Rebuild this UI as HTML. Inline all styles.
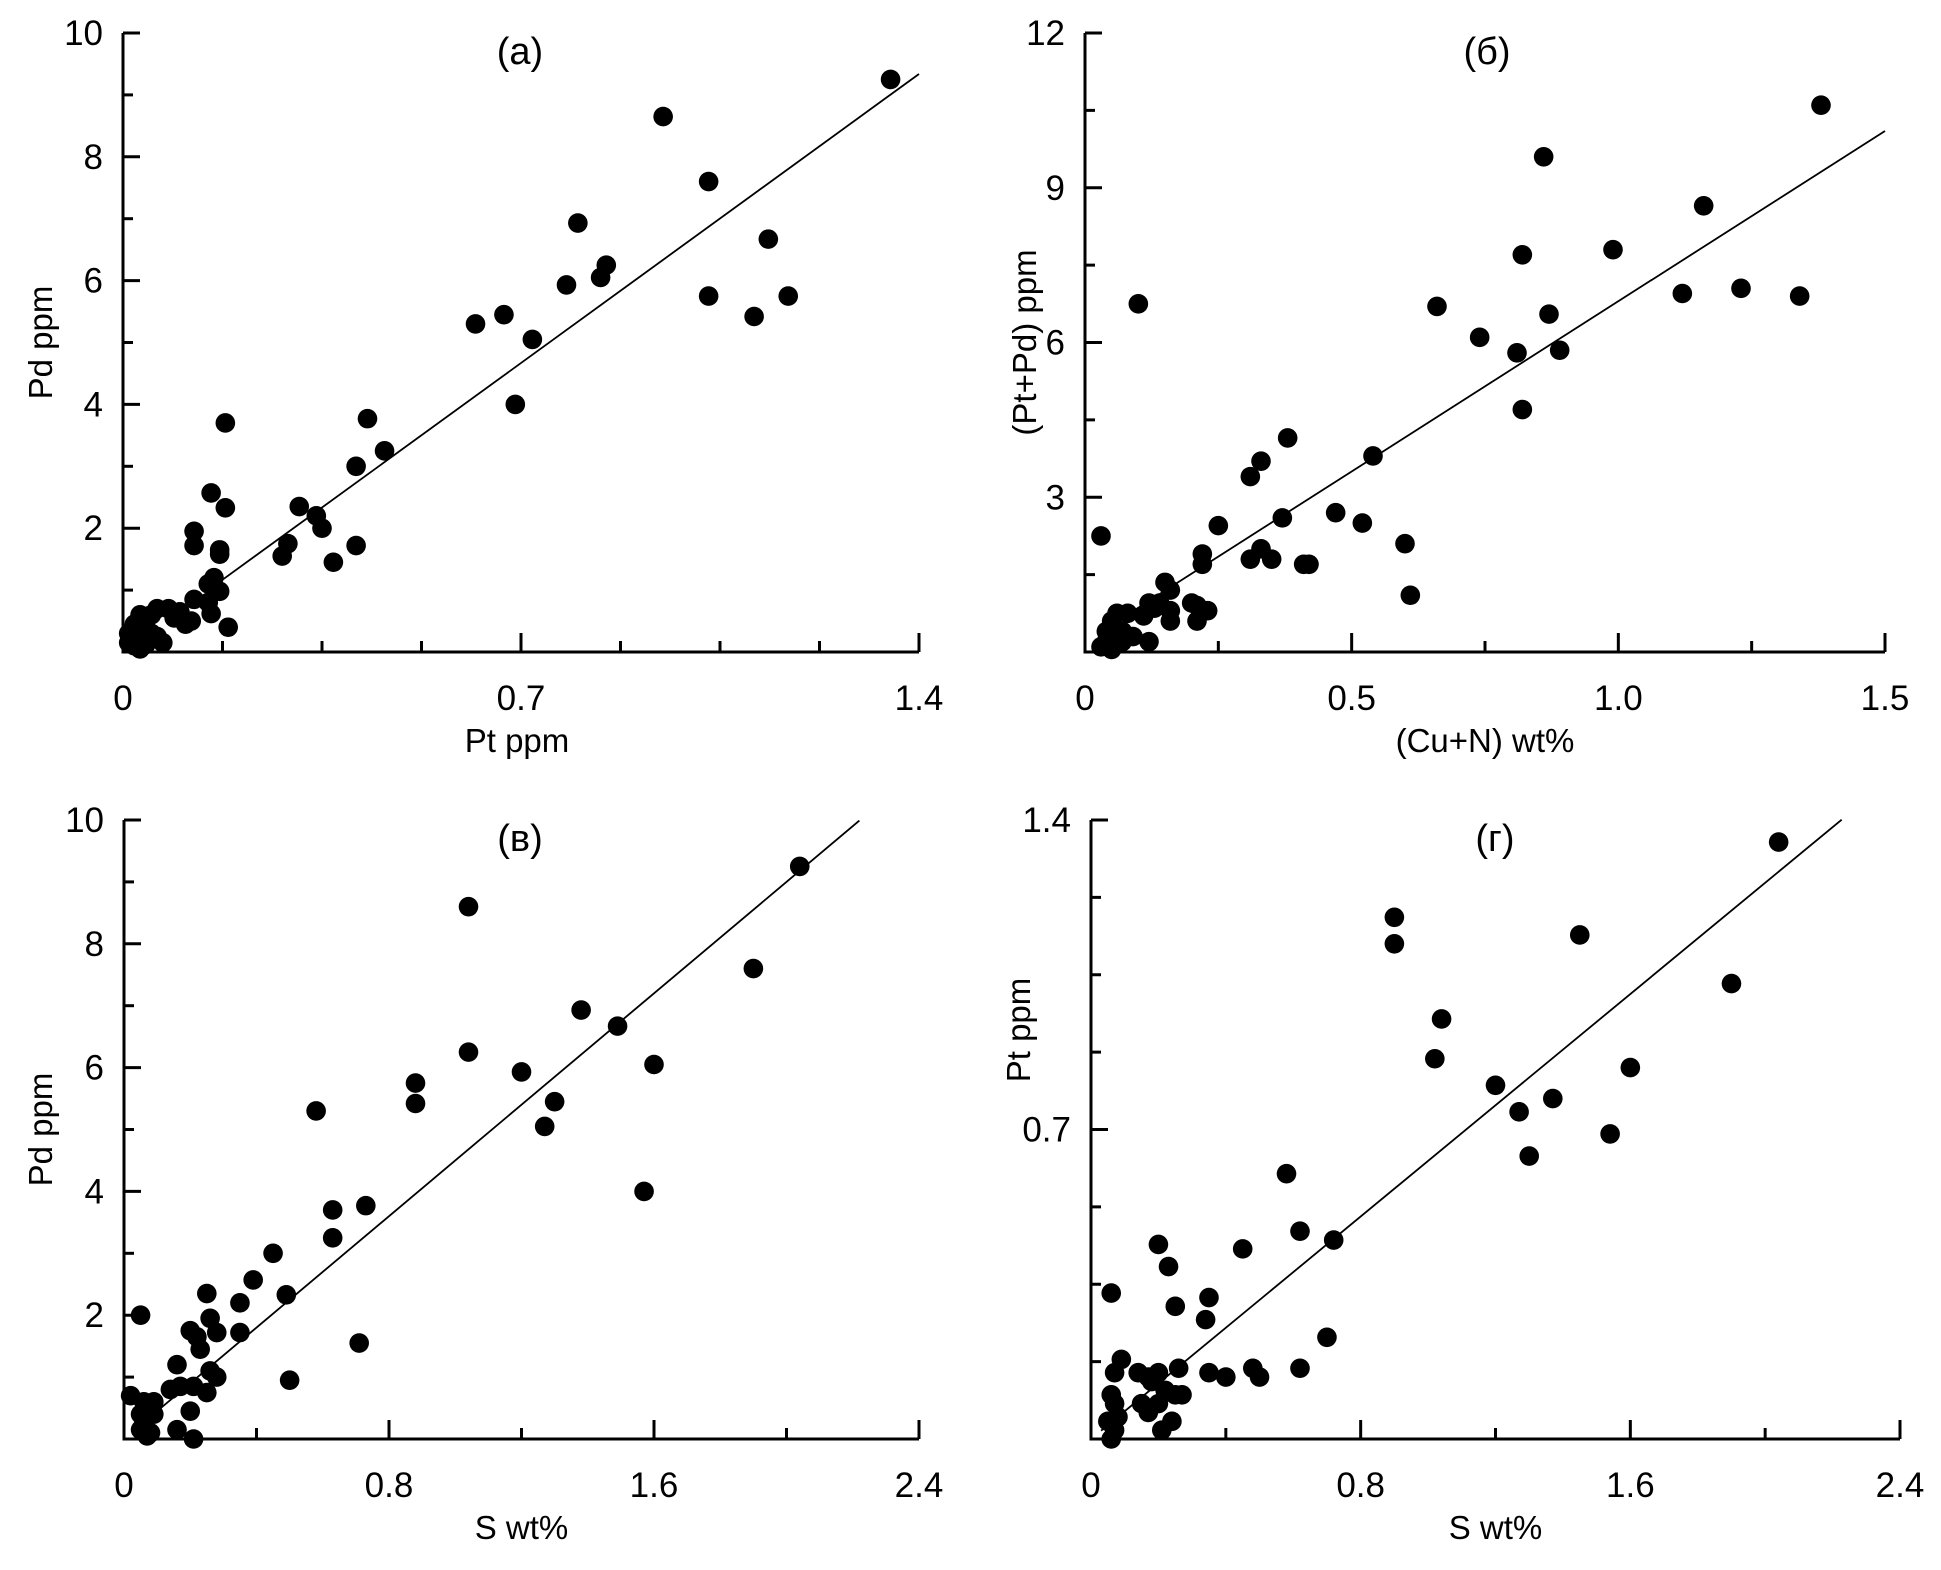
<!DOCTYPE html>
<html><head><meta charset="utf-8"><style>
html,body{margin:0;padding:0;background:#fff}
svg{display:block}
text{font-family:"Liberation Sans",Arial,sans-serif;fill:#000}
</style></head><body>
<svg id="chart" width="1941" height="1570" viewBox="0 0 1941 1570"></svg>
<script>
// ---- data ----
const aPt=[1.35,0.95,1.03,0.8,0.85,0.84,0.78,1.135,1.03,1.17,1.11,0.62,0.67,0.72,0.69,0.43,0.46,0.41,0.41,0.37,0.28,0.29,0.31,0.34,0.35,0.18,0.155,0.18,0.125,0.125,0.17,0.17,0.15,0.16,0.17,0.15,0.125,0.155,0.185,0.11,0.09,0.08,0.06,0.05,0.03,0.02,0.04,0.03,0.05,0.06,0.01,0.01,0.02,0.04,0.03,0.07,0.1,0.12,0.02];
const aPd=[9.25,8.65,7.6,6.93,6.25,6.05,5.93,6.67,5.75,5.75,5.42,5.3,5.45,5.05,4.0,3.77,3.25,3.0,1.72,1.45,1.55,1.75,2.35,2.2,2.0,3.7,2.57,2.33,1.95,1.72,1.65,1.58,1.1,1.2,0.98,0.8,0.85,0.62,0.4,0.45,0.55,0.7,0.7,0.6,0.6,0.45,0.4,0.3,0.3,0.25,0.3,0.15,0.1,0.12,0.05,0.15,0.65,0.5,0.2];
const aFit=[0.17,1.4]; const aFitSlope=6.67; const aFitInt=0.0;

const bCuN=[1.38,0.86,1.16,0.82,0.99,0.1,1.12,1.23,1.34,0.66,0.74,0.87,0.81,0.89,0.82,0.38,0.33,0.31,0.54,0.37,0.47,0.52,0.25,0.6,0.61,0.33,0.31,0.35,0.41,0.42,0.22,0.22,0.03,0.15,0.16,0.2,0.23,0.21,0.21,0.16,0.16,0.12,0.11,0.13,0.14,0.12,0.08,0.06,0.05,0.07,0.05,0.04,0.06,0.03,0.05,0.07,0.04,0.09];
const bPtPd=[10.6,9.6,8.65,7.7,7.8,6.75,6.95,7.05,6.9,6.7,6.1,6.55,5.8,5.85,4.7,4.15,3.7,3.4,3.8,2.6,2.7,2.5,2.45,2.1,1.1,2.0,1.8,1.8,1.7,1.7,1.9,1.7,2.25,1.35,1.2,0.95,0.8,0.9,0.6,0.8,0.6,0.95,0.7,0.85,0.95,0.2,0.75,0.75,0.6,0.4,0.3,0.2,0.15,0.1,0.05,0.2,0.4,0.3];
const bFit=[0.03,1.5]; const bFitSlope=6.6; const bFitInt=0.2;

const cS=[2.04,1.04,1.9,1.38,1.49,1.04,1.6,1.2,0.88,0.88,1.3,1.27,0.58,1.57,0.73,0.63,0.63,0.45,0.39,0.49,0.25,0.35,0.26,0.35,0.28,0.2,0.22,0.23,0.71,0.16,0.26,0.28,0.5,0.14,0.25,0.17,0.21,0.2,0.05,0.02,0.06,0.09,0.09,0.05,0.06,0.08,0.07,0.16,0.21,0.05];
const cPd=[9.25,8.6,7.6,6.93,6.67,6.25,6.05,5.93,5.75,5.42,5.45,5.05,5.3,4.0,3.77,3.7,3.25,3.0,2.57,2.33,2.35,2.2,1.95,1.72,1.72,1.75,1.65,1.45,1.55,1.2,1.1,1.0,0.95,0.8,0.75,0.85,0.85,0.45,2.0,0.7,0.6,0.6,0.4,0.4,0.25,0.1,0.05,0.15,0.0,0.15];
const cFit=[0.04,2.22]; const cFitSlope=4.5; const cFitInt=0.0;

const dS=[2.04,0.9,0.9,1.45,1.9,1.04,1.02,1.6,1.2,1.37,1.27,1.3,1.54,0.58,0.62,0.72,0.45,0.2,0.23,0.06,0.35,0.25,0.34,0.7,0.07,0.09,0.14,0.17,0.2,0.26,0.35,0.4,0.48,0.5,0.62,0.18,0.22,0.25,0.27,0.15,0.2,0.17,0.24,0.21,0.05,0.08,0.07,0.06,0.06,0.07];
const dPt=[1.35,1.18,1.12,1.14,1.03,0.95,0.86,0.84,0.8,0.77,0.74,0.64,0.69,0.6,0.47,0.45,0.43,0.44,0.39,0.33,0.32,0.3,0.27,0.23,0.15,0.18,0.15,0.14,0.15,0.16,0.15,0.14,0.16,0.14,0.16,0.13,0.11,0.1,0.1,0.08,0.08,0.06,0.04,0.02,0.04,0.05,0.08,0.1,0.0,0.02];
const dFit=[0.03,2.227]; const dFitSlope=0.629; const dFitInt=0.0;

const aXTicks=['0','0.7','1.4']; const aYTicks=['2','4','6','8','10'];
const bXTicks=['0','0.5','1.0','1.5']; const bYTicks=['3','6','9','12'];
const cXTicks=['0','0.8','1.6','2.4']; const cYTicks=['2','4','6','8','10'];
const dXTicks=['0','0.8','1.6','2.4']; const dYTicks=['0.7','1.4'];

const NS='http://www.w3.org/2000/svg';
const svg=document.getElementById('chart');
function mk(tag,attrs,parent){const e=document.createElementNS(NS,tag);for(const k in attrs)e.setAttribute(k,attrs[k]);(parent||svg).appendChild(e);return e;}

function panel(o){
  const g=mk('g',{});
  
  
  const sx=v=>o.x0+(v-o.xmin)/(o.xmax-o.xmin)*(o.x1-o.x0);
  const sy=v=>o.y0-(v-o.ymin)/(o.ymax-o.ymin)*(o.y0-o.y1);
  const ax=mk('path',{d:`M${o.x0},${o.y1}V${o.y0}H${o.x1}`,stroke:'#000','stroke-width':3,fill:'none'},g);
  
  
  for(let v=o.ymin;v<=o.ymax+1e-9;v+=o.yMinor){
    const major=Math.abs(v/o.yMajor-Math.round(v/o.yMajor))<1e-6;
    if(v===o.ymin)continue;
    const t=mk('line',{x1:o.x0,x2:o.x0+(major?17:10),y1:sy(v),y2:sy(v),stroke:'#000','stroke-width':3},g);
    
    
  }
  for(let v=o.xmin+o.xMinor;v<=o.xmax+1e-9;v+=o.xMinor){
    const major=Math.abs(v/o.xMajor-Math.round(v/o.xMajor))<1e-6;
    const t=mk('line',{x1:sx(v),x2:sx(v),y1:o.y0,y2:o.y0-(major?19:11),stroke:'#000','stroke-width':3},g);
    
    
  }
  o.xLabels.forEach(s=>{
    const t=mk('text',{x:sx(parseFloat(s)),y:o.y0+58,'font-size':35,'text-anchor':'middle'},g);t.textContent=s;
    
    
  });
  o.yLabels.forEach(s=>{
    const t=mk('text',{x:o.x0-20,y:sy(parseFloat(s))+12,'font-size':35,'text-anchor':'end'},g);t.textContent=s;
    
    
  });
  const xt=mk('text',{x:(o.x0+o.x1)/2-o.xtOff,y:o.y0+100,'font-size':33,'text-anchor':'middle'},g);xt.textContent=o.xTitle;
  
  
  const yc=o.ytY||(o.y0+o.y1)/2;
  const yt=mk('text',{x:o.ytX,y:yc,'font-size':33,'text-anchor':'middle',transform:`rotate(-90 ${o.ytX} ${yc})`},g);yt.textContent=o.yTitle;
  
  
  const pt=mk('text',{x:o.titleX,y:o.y1+31,'font-size':38,'text-anchor':'middle'},g);pt.textContent=o.title;
  
  
  const fl=mk('line',{x1:sx(o.fit[0]),y1:sy(o.fitInt+o.fitSlope*o.fit[0]),x2:sx(o.fit[1]),y2:sy(o.fitInt+o.fitSlope*o.fit[1]),stroke:'#000','stroke-width':1.8},g);
  
  
  o.xs.forEach((xv,i)=>{
    const c=mk('circle',{cx:sx(xv),cy:sy(o.ys[i]),r:9.8,fill:'#000'},g);
    
    
  });
}

panel({name:'panel-a',x0:123,x1:919,y0:652,y1:33,xmin:0,xmax:1.4,ymin:0,ymax:10,xMinor:0.175,xMajor:0.7,yMinor:1,yMajor:2,
  xLabels:aXTicks,yLabels:aYTicks,xTitle:'Pt ppm',xtOff:4,yTitle:'Pd ppm',ytX:52,title:'(a)',titleX:520,
  xs:aPt,ys:aPd,fit:aFit,fitSlope:aFitSlope,fitInt:aFitInt});
panel({name:'panel-b',x0:1085,x1:1885,y0:652,y1:33,xmin:0,xmax:1.5,ymin:0,ymax:12,xMinor:0.25,xMajor:0.5,yMinor:1.5,yMajor:3,
  xLabels:bXTicks,yLabels:bYTicks,xTitle:'(Cu+N) wt%',xtOff:0,yTitle:'(Pt+Pd) ppm',ytX:1036,title:'(б)',titleX:1487,
  xs:bCuN,ys:bPtPd,fit:bFit,fitSlope:bFitSlope,fitInt:bFitInt});
panel({name:'panel-c',x0:124,x1:919,y0:1439,y1:820,xmin:0,xmax:2.4,ymin:0,ymax:10,xMinor:0.4,xMajor:0.8,yMinor:1,yMajor:2,
  xLabels:cXTicks,yLabels:cYTicks,xTitle:'S wt%',xtOff:0,yTitle:'Pd ppm',ytX:52,title:'(в)',titleX:520,
  xs:cS,ys:cPd,fit:cFit,fitSlope:cFitSlope,fitInt:cFitInt});
panel({name:'panel-d',x0:1091,x1:1900,y0:1439,y1:820,xmin:0,xmax:2.4,ymin:0,ymax:1.4,xMinor:0.4,xMajor:0.8,yMinor:0.175,yMajor:0.7,
  xLabels:dXTicks,yLabels:dYTicks,xTitle:'S wt%',xtOff:0,yTitle:'Pt ppm',ytX:1030,ytY:1030,title:'(г)',titleX:1495,
  xs:dS,ys:dPt,fit:dFit,fitSlope:dFitSlope,fitInt:dFitInt});
</script>
</body></html>
